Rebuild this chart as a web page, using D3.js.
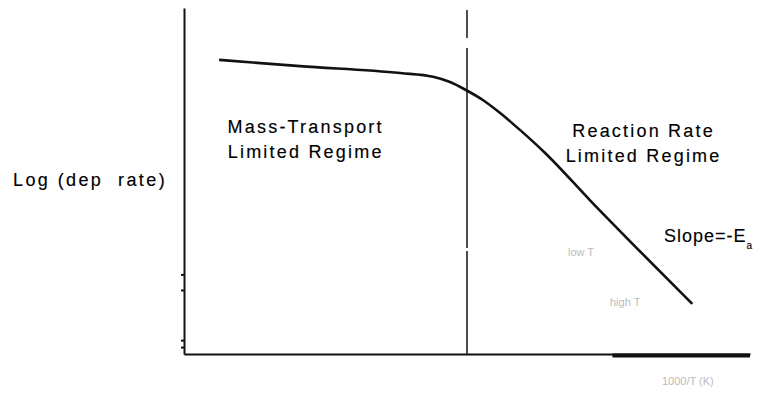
<!DOCTYPE html>
<html>
<head>
<meta charset="utf-8">
<script src="https://cdn.jsdelivr.net/npm/d3@7/dist/d3.min.js"></script>
<style>
  body { margin: 0; background: #fff; }
  svg { display: block; }
  .lbl { font-family: "Liberation Sans", Arial, sans-serif; fill: #000; stroke: #000; stroke-width: 0.15px; }
  .faint { font-family: "Liberation Sans", Arial, sans-serif; fill: #bbb; }
</style>
</head>
<body>
<div class="chart"></div>
<script>
let svgWidth = 766;
let svgHeight = 396;

let margin = { top: 8, right: 16, bottom: 42, left: 184 };
let chartWidth = svgWidth - margin.left - margin.right;
let chartHeight = svgHeight - margin.top - margin.bottom;

// curve (x = 1/T, y = log rate, arbitrary units 0-100)
let invT = [6.2, 20.5, 38.2, 44.0, 47.0, 49.8, 52.8, 55.8, 59.4, 63.8, 71.7, 89.8];
let logRate = [85.0, 83.2, 81.2, 80.1, 78.6, 76.3, 73.4, 69.7, 64.7, 58.1, 44.5, 14.5];
let boundaryX = 50;
let regimeLabels = [
  ["Mass-Transport", "Limited Regime"],
  ["Reaction Rate", "Limited Regime"]
];
let regimeCentres = [21.5, 81.2];
let regimeTops = [133, 137];
let yTicks = [23, 18.5, 4, 2];

let svg = d3.select(".chart")
  .append("svg")
  .attr("width", svgWidth)
  .attr("height", svgHeight);

let chart = svg.append("g")
  .attr("transform", `translate(${margin.left}, ${margin.top})`);

let x = d3.scaleLinear().domain([0, 100]).range([0, chartWidth]);
let y = d3.scaleLinear().domain([0, 100]).range([chartHeight, 0]);

// axes: plain lines, no labels
let bottomAxis = d3.axisBottom(x).tickValues([]).tickSizeOuter(0);
let leftAxis = d3.axisLeft(y).tickValues(yTicks).tickSize(3).tickSizeOuter(0).tickFormat("");

let gx = chart.append("g")
  .attr("transform", `translate(0, ${chartHeight})`)
  .call(bottomAxis);
gx.select(".domain").attr("stroke", "#111").attr("stroke-width", 2);

// heavier stretch at the right end of the x axis
chart.append("line")
  .attr("x1", x(75.7)).attr("x2", x(100))
  .attr("y1", chartHeight + 1.5).attr("y2", chartHeight + 1.5)
  .attr("stroke", "#111")
  .attr("stroke-width", 4);

let gy = chart.append("g").call(leftAxis);
gy.select(".domain").attr("stroke", "#111").attr("stroke-width", 2);
gy.selectAll(".tick line").attr("stroke", "#111").attr("stroke-width", 2);

// dashed regime boundary
chart.append("line")
  .attr("x1", x(boundaryX)).attr("x2", x(boundaryX))
  .attr("y1", 2).attr("y2", chartHeight)
  .attr("stroke", "#222")
  .attr("stroke-width", 1.6)
  .attr("stroke-dasharray", "28,10,200,3,1000");

// deposition rate curve
let line = d3.line()
  .x(function(d, i) { return x(invT[i]); })
  .y(function(d, i) { return y(logRate[i]); })
  .curve(d3.curveMonotoneX);

chart.append("path")
  .datum(invT)
  .attr("d", line)
  .attr("fill", "none")
  .attr("stroke", "#111")
  .attr("stroke-width", 2.6);

// regime labels
regimeLabels.forEach(function(lines, k) {
  let t = svg.append("text")
    .attr("class", "lbl")
    .attr("text-anchor", "middle")
    .style("font-size", "18px")
    .style("letter-spacing", "2.2px");
  lines.forEach(function(s, i) {
    t.append("tspan")
      .attr("x", margin.left + x(regimeCentres[k]))
      .attr("y", regimeTops[k] + i * 25)
      .text(s);
  });
});

svg.append("text")
  .attr("class", "lbl")
  .attr("x", 13)
  .attr("y", 186)
  .style("font-size", "18px")
  .style("letter-spacing", "2.4px")
  .style("white-space", "pre")
  .text("Log (dep  rate)");

let slope = svg.append("text")
  .attr("class", "lbl")
  .attr("x", 664)
  .attr("y", 242)
  .style("font-size", "18px")
  .style("letter-spacing", "1px")
  .text("Slope=-E");
slope.append("tspan")
  .attr("dy", 7)
  .style("font-size", "10px")
  .text("a");

// faint scanned annotations
svg.append("text").attr("class", "faint")
  .attr("x", 568).attr("y", 256)
  .style("font-size", "11px")
  .text("low T");
svg.append("text").attr("class", "faint")
  .attr("x", 610).attr("y", 306)
  .style("font-size", "11px")
  .text("high T");
svg.append("text").attr("class", "faint")
  .attr("x", 662).attr("y", 385)
  .style("font-size", "11px")
  .text("1000/T (K)");
</script>
</body>
</html>
